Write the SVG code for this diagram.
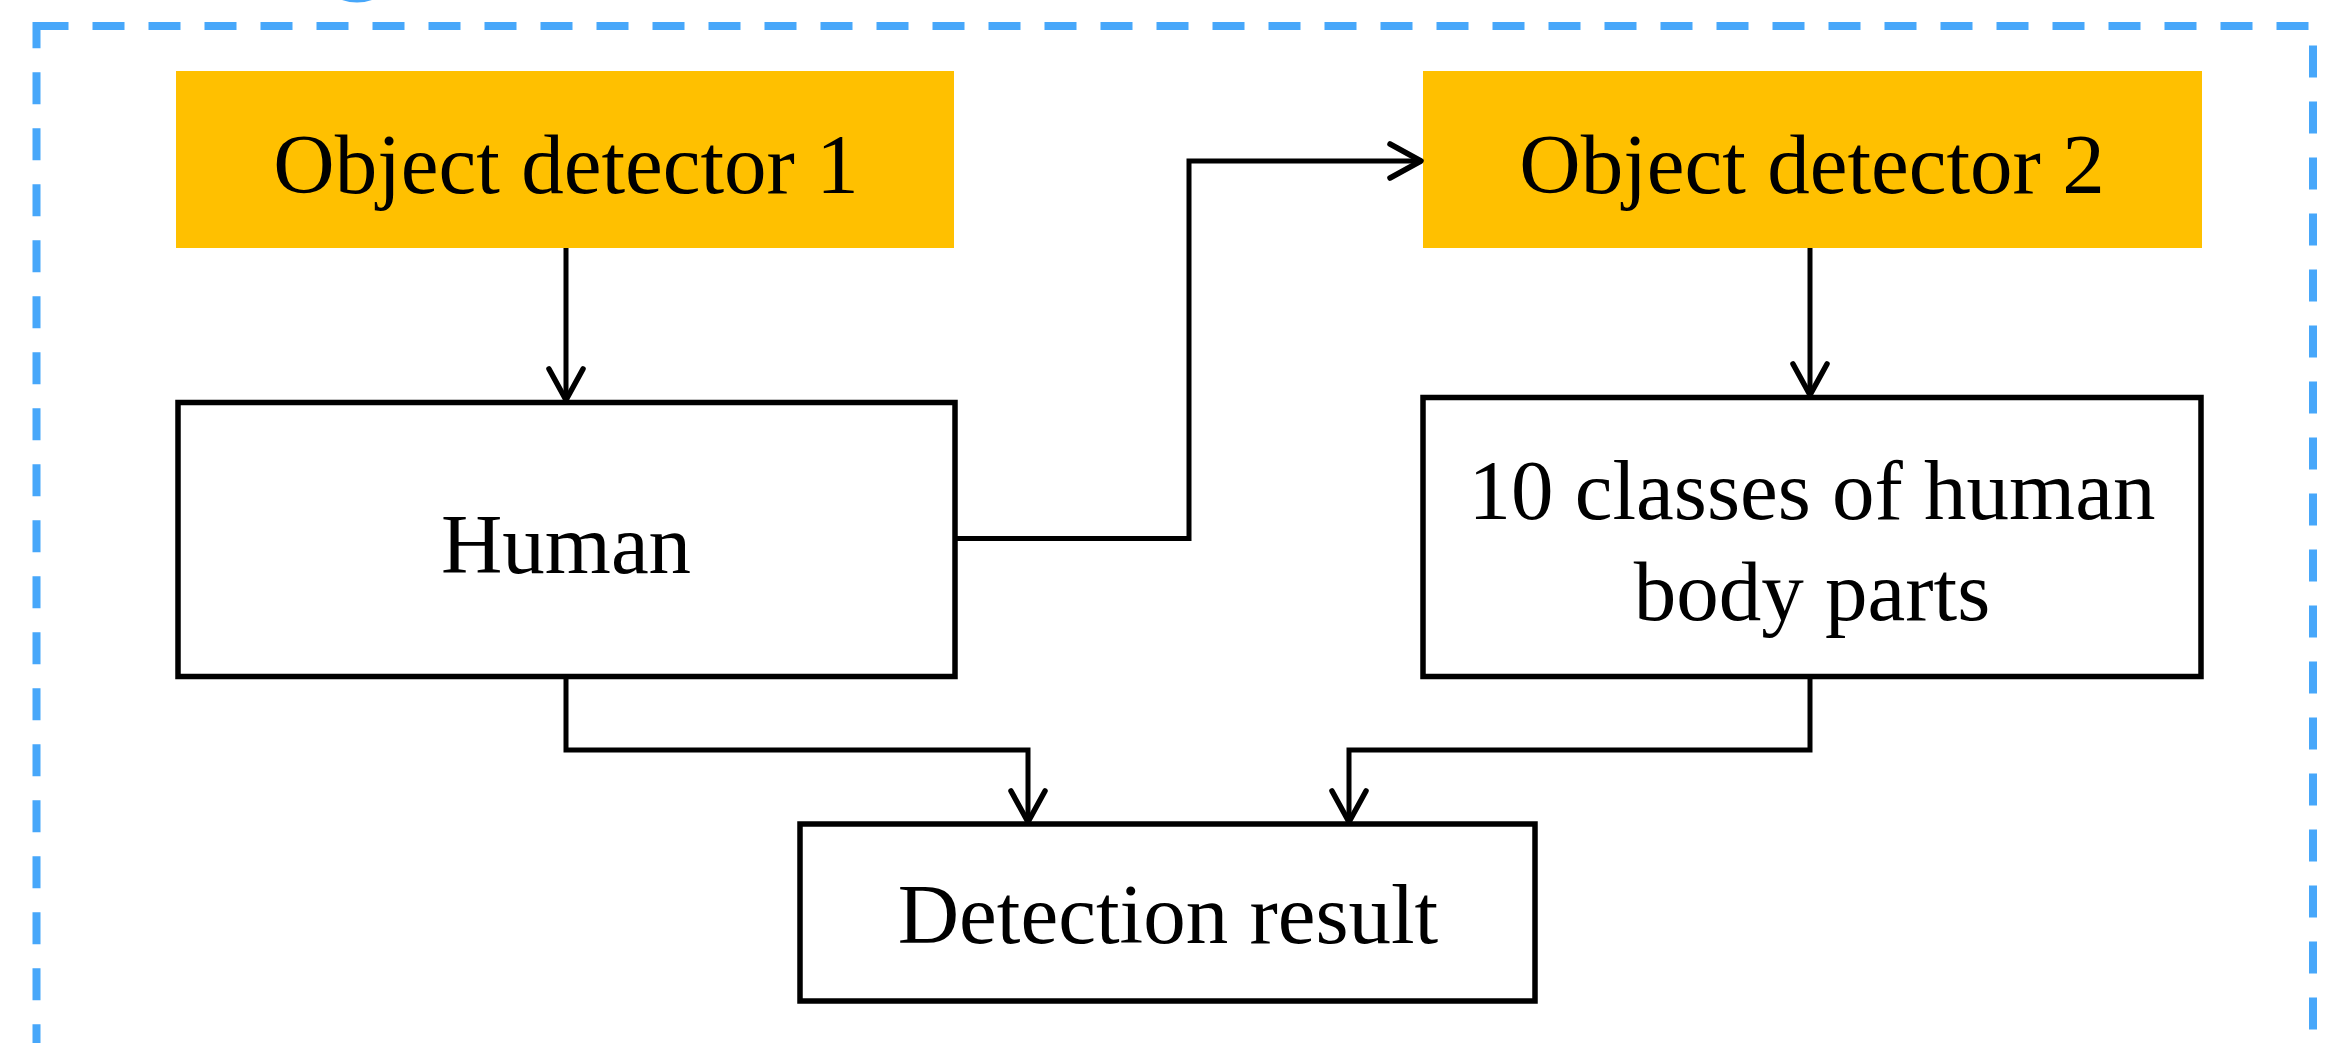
<svg xmlns="http://www.w3.org/2000/svg" width="2326" height="1043" viewBox="0 0 2326 1043">
  <style>
    .frame { fill: none; stroke: #47A7FA; stroke-width: 8; stroke-dasharray: 32 24; }
    .det { fill: #FFC000; }
    .box { fill: #FFFFFF; stroke: #000000; stroke-width: 5.5; }
    .lbl { font-family: "Liberation Serif", "Times New Roman", serif; font-size: 85px; fill: #000000; text-anchor: middle; }
    .wire { fill: none; stroke: #000000; stroke-width: 5; stroke-linejoin: miter; marker-end: url(#chev); }
  </style>
  <defs>
    <marker id="chev" markerUnits="userSpaceOnUse" viewBox="-40 -22 46 44" refX="0" refY="0" markerWidth="46" markerHeight="44" orient="auto" overflow="visible">
      <path d="M-31,-17 L0,0 L-31,17" fill="none" stroke="#000000" stroke-width="5.5" stroke-linecap="round" stroke-linejoin="round"/>
    </marker>
  </defs>

  <rect width="2326" height="1043" fill="#FFFFFF"/>

  <!-- outer dashed frame (continues below the visible area) -->
  <rect class="frame" x="36.5" y="26" width="2276.5" height="1038.65"/>
  <!-- edge of the heading lettering above the frame -->
  <path d="M342,0 Q357,5 372,0 Z" fill="#47A7FA"/>

  <g id="object-detector-1">
    <rect class="det" x="176" y="71" width="778" height="177"/>
    <text class="lbl" x="566" y="193">Object detector 1</text>
  </g>

  <g id="object-detector-2">
    <rect class="det" x="1423" y="71" width="779" height="177"/>
    <text class="lbl" x="1812" y="193">Object detector 2</text>
  </g>

  <g id="human">
    <rect class="box" x="178" y="402.5" width="777" height="274"/>
    <text class="lbl" x="566" y="573">Human</text>
  </g>

  <g id="body-parts">
    <rect class="box" x="1423" y="397.5" width="778" height="279"/>
    <text class="lbl" x="1812" y="519">10 classes of human</text>
    <text class="lbl" x="1812" y="620">body parts</text>
  </g>

  <g id="detection-result">
    <rect class="box" x="800" y="824" width="735" height="177"/>
    <text class="lbl" x="1168" y="943">Detection result</text>
  </g>

  <g id="connectors">
    <path class="wire" d="M566,248 V400"/>
    <path class="wire" d="M955,538.5 H1189 V161 H1421"/>
    <path class="wire" d="M1810,248 V395"/>
    <path class="wire" d="M566,676.5 V750 H1028 V822"/>
    <path class="wire" d="M1810,676.5 V750 H1349 V822"/>
  </g>
</svg>
